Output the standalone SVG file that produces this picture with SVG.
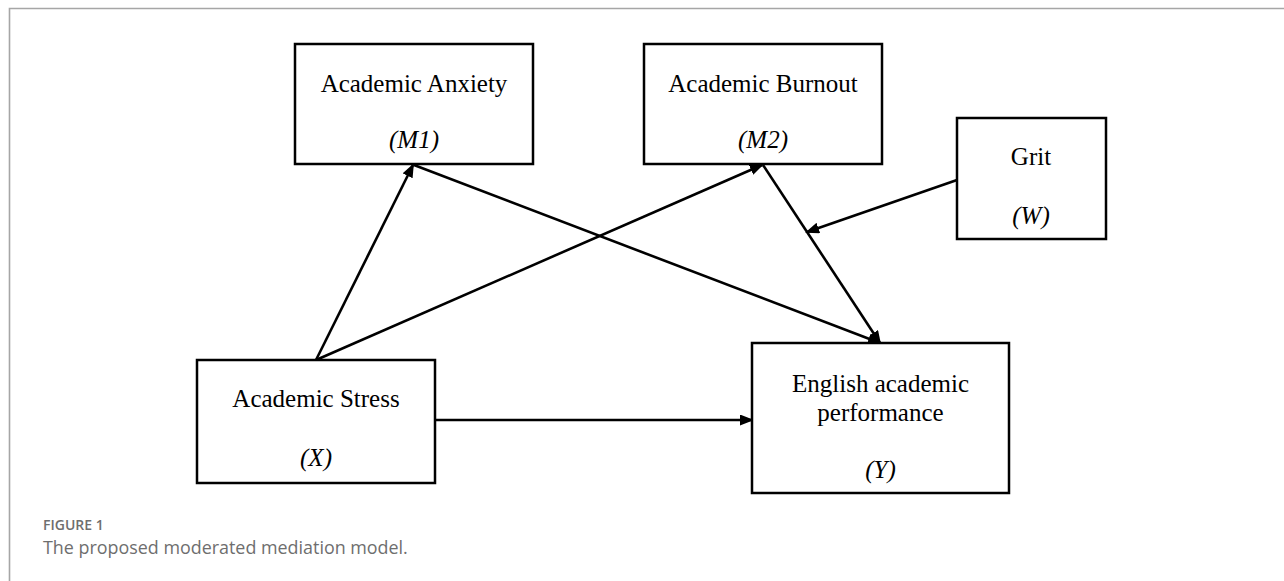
<svg xmlns="http://www.w3.org/2000/svg" width="1284" height="581" viewBox="0 0 1284 581">
<style>
.box{fill:#fff;stroke:#000;stroke-width:2.5}
.t{font-family:"Liberation Serif","Times New Roman",serif;font-size:25px;fill:#000;text-anchor:middle}
.i{font-style:italic}
.c{fill:none;stroke:#000;stroke-width:2.6}
.cap1{font-family:"Open Sans","Lato",sans-serif;font-size:14px;font-weight:600;fill:#6e6e6e}
.cap2{font-family:"Open Sans","Lato",sans-serif;font-size:17.9px;fill:#6e6e6e}
</style>
<defs>
<marker id="ah" markerUnits="userSpaceOnUse" markerWidth="15" markerHeight="12" refX="12" refY="5.5" orient="auto">
<path d="M0,0 L14,5.5 L0,11 z" fill="#000"/>
</marker>
<filter id="sh" x="-10%" y="-200%" width="120%" height="500%">
<feDropShadow dx="0" dy="2.5" stdDeviation="1.2" flood-color="#000" flood-opacity="0.35"/>
</filter>
</defs>
<rect width="1284" height="581" fill="#fff"/>
<path d="M9.5,581 V8.5 H1284" fill="none" stroke="#a6a6a6" stroke-width="1.6"/>

<g id="connectors">
<line class="c" x1="534" y1="102" x2="644" y2="102" marker-end="url(#ah)" filter="url(#sh)"/>
<line class="c" x1="316" y1="360" x2="413" y2="165" marker-end="url(#ah)"/>
<line class="c" x1="316" y1="360" x2="762" y2="165" marker-end="url(#ah)"/>
<line class="c" x1="414" y1="165" x2="880" y2="343" marker-end="url(#ah)"/>
<line class="c" x1="763" y1="165" x2="880" y2="343" marker-end="url(#ah)"/>
<line class="c" x1="957" y1="180" x2="807" y2="232" marker-end="url(#ah)"/>
<line class="c" x1="435" y1="420" x2="752" y2="420" marker-end="url(#ah)"/>
</g>

<g id="node-m1">
<rect class="box" x="295" y="44" width="238" height="120"/>
<text class="t" x="414" y="92">Academic Anxiety</text>
<text class="t i" x="414" y="148">(M1)</text>
</g>
<g id="node-m2">
<rect class="box" x="644" y="44" width="238" height="120"/>
<text class="t" x="763" y="92">Academic Burnout</text>
<text class="t i" x="763" y="148">(M2)</text>
</g>
<g id="node-w">
<rect class="box" x="957" y="118" width="149" height="121"/>
<text class="t" x="1031" y="165">Grit</text>
<text class="t i" x="1031" y="224">(W)</text>
</g>
<g id="node-x">
<rect class="box" x="197" y="360" width="238" height="123"/>
<text class="t" x="316" y="407">Academic Stress</text>
<text class="t i" x="316" y="466">(X)</text>
</g>
<g id="node-y">
<rect class="box" x="752" y="343" width="257" height="150"/>
<text class="t" x="880.5" y="392">English academic</text>
<text class="t" x="880.5" y="421">performance</text>
<text class="t i" x="880.5" y="478">(Y)</text>
</g>

<g id="caption">
<text class="cap1" x="43" y="530">FIGURE 1</text>
<text class="cap2" x="43" y="554">The proposed moderated mediation model.</text>
</g>
</svg>
